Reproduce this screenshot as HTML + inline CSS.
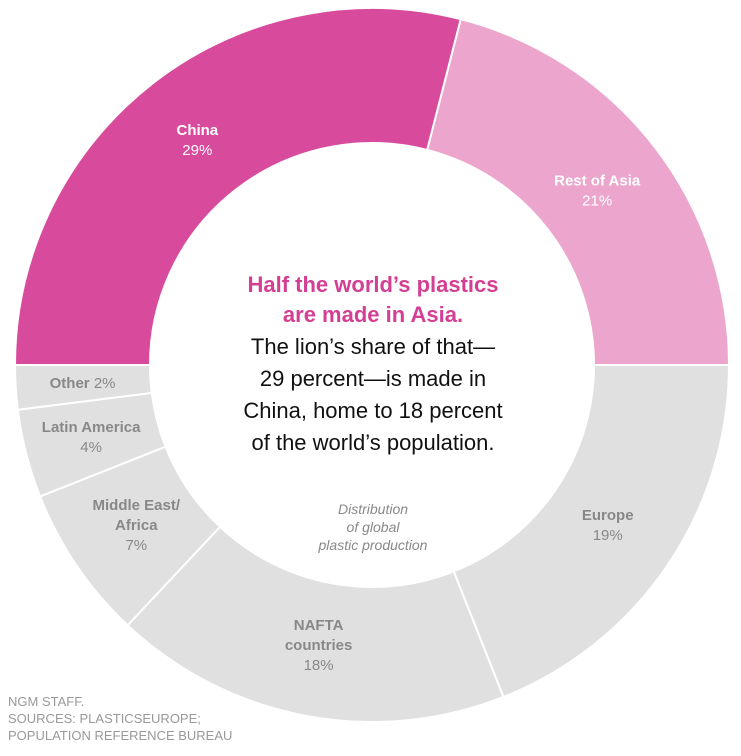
<!DOCTYPE html>
<html><head><meta charset="utf-8">
<style>
html,body{margin:0;padding:0;background:#fff;}
body{width:741px;height:751px;overflow:hidden;font-family:"Liberation Sans",sans-serif;}
</style></head>
<body>
<svg id="chart" width="741" height="751" viewBox="0 0 741 751" xmlns="http://www.w3.org/2000/svg">
<g id="segs"></g>
<g id="labels"></g>
<g text-anchor="middle" font-size="22">
<text x="373" y="292" fill="#d43f93" font-weight="bold">Half the world’s plastics</text>
<text x="373" y="322" fill="#d43f93" font-weight="bold">are made in Asia.</text>
<text x="373" y="354" fill="#111">The lion’s share of that—</text>
<text x="373" y="386" fill="#111">29 percent—is made in</text>
<text x="373" y="418" fill="#111">China, home to 18 percent</text>
<text x="373" y="450" fill="#111">of the world’s population.</text>
</g>
<g text-anchor="middle" font-size="14" font-style="italic" fill="#888">
<text x="373" y="514">Distribution</text>
<text x="373" y="532">of global</text>
<text x="373" y="550">plastic production</text>
</g>
<g font-size="13" fill="#999">
<text x="8" y="706">NGM STAFF.</text>
<text x="8" y="723">SOURCES: PLASTICSEUROPE;</text>
<text x="8" y="740">POPULATION REFERENCE BUREAU</text>
</g>
</svg>
<script>
const categories = ["Europe","NAFTA countries","Middle East/ Africa","Latin America","Other","China","Rest of Asia"];
const values = [19,18,7,4,2,29,21];
const labelLines = [["Europe"],["NAFTA","countries"],["Middle East/","Africa"],["Latin America"],["Other"],["China"],["Rest of Asia"]];
const colors = ["#e0e0e0","#e0e0e0","#e0e0e0","#e0e0e0","#e0e0e0","#d84a9c","#eca6cd"];
const labelColors = ["#888","#888","#888","#888","#888","#fff","#fff"];
const CX=372, CY=365, R=357, RI=222, START=90;
const total = values.reduce((a,b)=>a+b,0);
const ang = v => v/total*360;
function pt(a,r){const t=a*Math.PI/180;return [CX+r*Math.sin(t), CY-r*Math.cos(t)];}
const NS="http://www.w3.org/2000/svg";
const segs=document.getElementById('segs'), labels=document.getElementById('labels');
let a0=START;
values.forEach((v,i)=>{
  const a1=a0+ang(v), large=(a1-a0)>180?1:0;
  const [x0,y0]=pt(a0,R),[x1,y1]=pt(a1,R),[x2,y2]=pt(a1,RI),[x3,y3]=pt(a0,RI);
  const p=document.createElementNS(NS,'path');
  p.setAttribute('d',`M${x0},${y0}A${R},${R} 0 ${large} 1 ${x1},${y1}L${x2},${y2}A${RI},${RI} 0 ${large} 0 ${x3},${y3}Z`);
  p.setAttribute('fill',colors[i]);p.setAttribute('stroke','#fff');p.setAttribute('stroke-width','2');
  
  
  segs.appendChild(p);
  const mid=(a0+a1)/2;
  const lr = v<5 ? 290 : 285;
  const [lx,ly]=pt(mid,lr);
  const g=document.createElementNS(NS,'text');
  
  
  g.setAttribute('text-anchor','middle');g.setAttribute('font-size','15');g.setAttribute('fill',labelColors[i]);
  const lines=labelLines[i];
  if(v<=2){
    g.setAttribute('x',lx);g.setAttribute('y',ly+5);
    const b=document.createElementNS(NS,'tspan');b.setAttribute('font-weight','bold');b.textContent=lines[0]+' ';
    const t=document.createElementNS(NS,'tspan');t.textContent=v+'%';
    g.appendChild(b);g.appendChild(t);
  } else {
    const n=lines.length+1, y0l=ly-(n-1)*10+5;
    lines.forEach((ln,k)=>{const t=document.createElementNS(NS,'tspan');t.setAttribute('x',lx);t.setAttribute('y',y0l+k*20);t.setAttribute('font-weight','bold');t.textContent=ln;g.appendChild(t);});
    const t=document.createElementNS(NS,'tspan');t.setAttribute('x',lx);t.setAttribute('y',y0l+lines.length*20);t.textContent=v+'%';g.appendChild(t);
  }
  labels.appendChild(g);
  a0=a1;
});
</script>
</body></html>
